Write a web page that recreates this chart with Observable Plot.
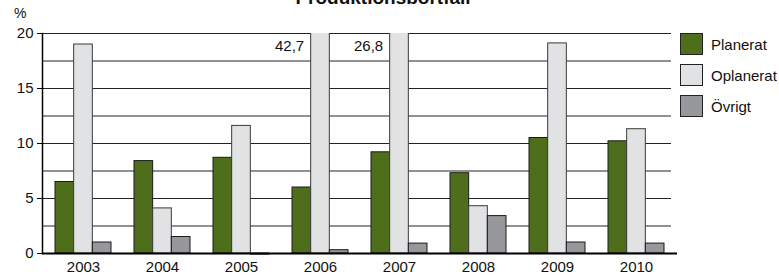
<!DOCTYPE html>
<html>
<head>
<meta charset="utf-8">
<script src="https://cdn.jsdelivr.net/npm/d3@7"></script>
<script src="https://cdn.jsdelivr.net/npm/@observablehq/plot@0.6"></script>
<style>
  html, body { margin: 0; padding: 0; background: #fff; }
  #wrap { position: relative; width: 779px; height: 275px; overflow: hidden; font-family: "Liberation Sans", Arial, sans-serif; color: #111; }
  #title { position: absolute; left: 0; width: 766px; top: -13px; text-align: center; font-weight: bold; font-size: 19px; }
  #unit { position: absolute; left: 14px; top: 5px; font-size: 14px; }
  .leg { position: absolute; left: 680px; font-size: 15px; display: flex; align-items: center; }
  .leg span.sw { display: inline-block; width: 21px; height: 20px; border: 1px solid #222; margin-right: 8px; }
  svg { display: block; }
</style>
</head>
<body>
<div id="wrap">
  <div id="chart"></div>
  <div id="title">Produktionsbortfall</div>
  <div id="unit">%</div>
</div>
<script>
const years = ["2003", "2004", "2005", "2006", "2007", "2008", "2009", "2010"];
const planerat = [6.5, 8.4, 8.7, 6.0, 9.2, 7.3, 10.5, 10.2];
const oplanerat = [19.0, 4.1, 11.6, 42.7, 26.8, 4.3, 19.1, 11.3];
const ovrigt = [1.0, 1.5, -0.1, 0.3, 0.9, 3.4, 1.0, 0.9];
const seriesNames = ["Planerat", "Oplanerat", "Övrigt"];
const seriesColors = ["#4e6e1c", "#e1e2e4", "#97989c"];
const yTicks = [0, 5, 10, 15, 20];
const gridLines = [2.5, 5, 7.5, 10, 12.5, 15, 17.5, 20];
const yDomain = [0, 20];

const rows = years.map((year, i) => ({year, planerat: planerat[i], oplanerat: oplanerat[i], ovrigt: ovrigt[i]}));

const W = 779, H = 275, mL = 42, mR = 108, mT = 33, mB = 22;
const xOpts = {domain: years, paddingInner: 0.295, paddingOuter: 0.107, align: 0.65};
const bw = d3.scaleBand(years, [mL, W - mR]).paddingInner(xOpts.paddingInner).paddingOuter(xOpts.paddingOuter).align(xOpts.align).bandwidth();
const third = bw / 3;
const fmt = v => v.toFixed(1).replace(".", ",");

const chart = Plot.plot({
  width: W, height: H,
  marginLeft: mL, marginRight: mR, marginTop: mT, marginBottom: mB,
  style: {fontFamily: "'Liberation Sans', Arial, sans-serif", fontSize: "15px", color: "#111", background: "#fff"},
  x: {...xOpts, label: null},
  y: {domain: yDomain, label: null},
  marks: [
    Plot.ruleY(gridLines, {stroke: "#222", strokeWidth: 1}),
    Plot.barY(rows, {x: "year", y: "planerat", fill: seriesColors[0], stroke: "#1a1a1a", strokeWidth: 1, insetRight: 2 * third}),
    Plot.barY(rows, {x: "year", y: "oplanerat", fill: seriesColors[1], stroke: "#3a3a3a", strokeWidth: 1, insetLeft: third, insetRight: third, clip: true}),
    Plot.barY(rows, {x: "year", y: "ovrigt", fill: seriesColors[2], stroke: "#1a1a1a", strokeWidth: 1, insetLeft: 2 * third}),
    Plot.text(rows.filter(d => d.oplanerat > yDomain[1]), {x: "year", y: () => yDomain[1], text: d => fmt(d.oplanerat), textAnchor: "end", dx: -third / 2 - 7, dy: 13, fontSize: 15, fill: "#111"}),
    Plot.ruleY([0], {stroke: "#000", strokeWidth: 2, insetRight: -6}),
    Plot.frame({anchor: "left", stroke: "#000", strokeWidth: 1.5}),
    Plot.axisY({ticks: yTicks, tickSize: 5, tickPadding: 4, label: null, fontSize: 15, stroke: "#000"}),
    Plot.axisX({tickSize: 0, tickPadding: 8, label: null, fontSize: 15})
  ]
});
document.getElementById("chart").appendChild(chart);

const wrap = document.getElementById("wrap");
seriesNames.forEach((name, i) => {
  const d = document.createElement("div");
  d.className = "leg";
  d.style.top = (33 + i * 31) + "px";
  const sw = document.createElement("span");
  sw.className = "sw";
  sw.style.background = seriesColors[i];
  d.appendChild(sw);
  d.appendChild(document.createTextNode(name));
  wrap.appendChild(d);
});
</script>
</body>
</html>
